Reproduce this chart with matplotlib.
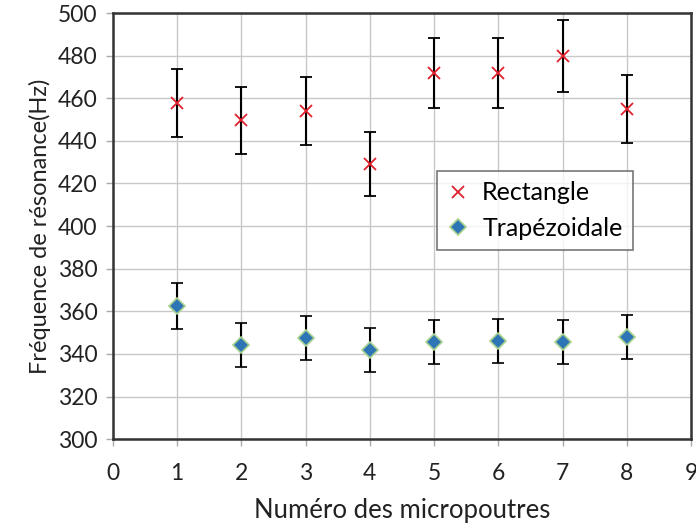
import matplotlib
matplotlib.use("Agg")
import matplotlib.pyplot as plt

x = [1, 2, 3, 4, 5, 6, 7, 8]
rect = [457.7, 449.7, 454.0, 429.0, 472.0, 472.0, 479.7, 455.0]
rect_err = [16.0, 15.7, 15.9, 15.0, 16.5, 16.5, 16.8, 15.9]
trap = [362.4, 344.0, 347.4, 342.0, 345.6, 346.2, 345.6, 347.8]
trap_err = [10.9, 10.3, 10.4, 10.3, 10.4, 10.4, 10.4, 10.4]
xticks = list(range(0, 10))
yticks = list(range(300, 501, 20))

plt.rcParams['font.family'] = ['Lato', 'DejaVu Sans']

fig = plt.figure(figsize=(6.96, 5.31), dpi=100)
ax = fig.add_axes([0.162, 0.173, 0.831, 0.8025])

ax.errorbar(x, rect, yerr=rect_err, fmt='x', color='#E0202A', ecolor='black',
            elinewidth=1.5, capsize=4, capthick=1.5, markersize=9, markeredgewidth=1.3,
            label='Rectangle', zorder=3)
ax.errorbar(x, trap, yerr=trap_err, fmt='D', color='#2E75B6', ecolor='black',
            markeredgecolor='#A9D18E', markeredgewidth=1.2,
            elinewidth=1.5, capsize=4, capthick=1.5, markersize=8,
            label='Trapézoidale', zorder=3)

ax.set_xlim(0, 9)
ax.set_ylim(300, 500)
ax.set_xticks(xticks)
ax.set_yticks(yticks)
ax.grid(True, color='#C8C8C8', linewidth=1.0, zorder=0)
ax.set_axisbelow(True)
for s in ax.spines.values():
    s.set_color('#333333')
    s.set_linewidth(1.8)
ax.tick_params(axis='both', labelsize=16.5, length=5, width=1,
               labelcolor='#222222', pad=6)
ax.tick_params(axis='both', color='#AAAAAA')
ax.tick_params(axis='x', pad=12)

ax.set_xlabel('Numéro des micropoutres', fontsize=18.5, color='#222222', labelpad=10)
ax.set_ylabel('Fréquence de résonance(Hz)', fontsize=17, color='#222222', labelpad=5)

handles, labels = ax.get_legend_handles_labels()
handles = [h[0] for h in handles]
leg = ax.legend(handles, labels, loc='lower left', bbox_to_anchor=(0.561, 0.444),
                fontsize=18, frameon=True, fancybox=False, shadow=False,
                borderpad=0.4, labelspacing=0.5, handlelength=0.9, handletextpad=0.5,
                borderaxespad=0)
leg.get_frame().set_edgecolor('#555555')
leg.get_frame().set_linewidth(1.2)

fig.savefig('out.png', dpi=100)
